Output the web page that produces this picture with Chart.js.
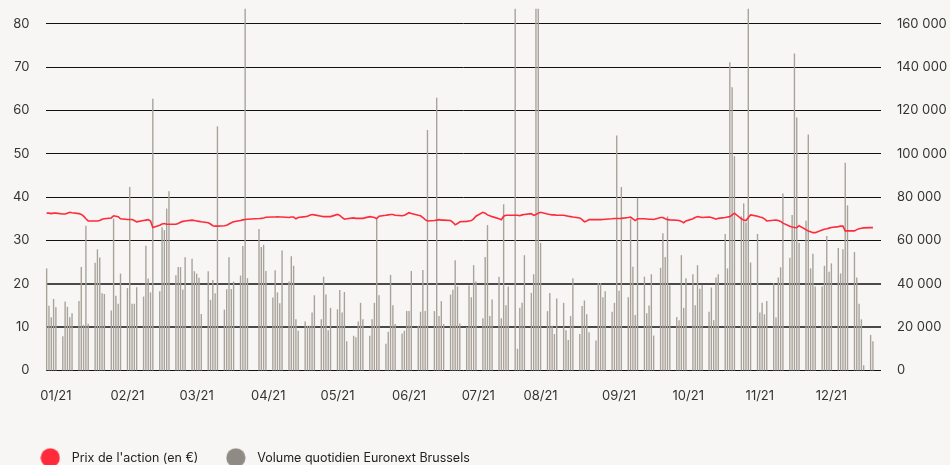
<!DOCTYPE html>
<html lang="fr">
<head>
<meta charset="utf-8">
<title>Cours de l'action et volume quotidien 2021</title>
<script src="https://cdn.jsdelivr.net/npm/chart.js@4.4.1/dist/chart.umd.min.js"></script>
<style>
  html, body { margin: 0; padding: 0; background: #f7f6f4; overflow: hidden; }
  #wrap { position: relative; width: 950px; height: 474px; }
</style>
</head>
<body>
<div id="wrap"><canvas id="chartPrice"></canvas></div>
<script>
// Séances du 4 janvier au 28 décembre 2021, une ligne par semaine
const prices = [
  36.3, 36.3, 36.2, 36.3, 36.3,
  36.1, 36.1, 36.3, 36.5, 36.4,
  36.2, 36.0, 35.6, 35.0, 34.5,
  34.5, 34.5, 34.6, 34.9, 35.0,
  35.2, 35.7, 35.6, 35.5, 35.0,
  34.85, 34.85, 34.85, 34.6, 34.3,
  34.6, 34.7, 34.8, 34.5, 33.0,
  33.5, 33.8, 33.9, 33.75, 33.75,
  33.75, 33.9, 34.2, 34.4, 34.5,
  34.7, 34.6, 34.5, 34.4, 34.3,
  34.1, 33.8, 33.4, 33.3, 33.3,
  33.4, 33.5, 33.8, 34.1, 34.3,
  34.6, 34.75, 34.85, 34.9,
  35.05, 35.1, 35.2, 35.35,
  35.4, 35.4, 35.45, 35.4, 35.4,
  35.3, 35.4, 35.4, 35.0, 35.3,
  35.5, 35.6, 35.8, 36.0, 35.9,
  35.6, 35.5, 35.5, 35.5, 35.5,
  36.0, 35.8, 35.3, 34.9, 35.0,
  35.2, 35.1, 35.1, 35.1, 35.1,
  35.5, 35.4, 35.3, 35.05, 35.6,
  35.8, 35.9, 36.0, 36.0, 35.8,
  35.7, 35.8, 36.1, 36.4, 36.2,
  35.8, 35.7, 35.3, 34.8, 34.5,
  34.6, 34.7, 34.8, 34.7, 34.7,
  34.6, 34.2, 33.6, 33.9, 34.3,
  34.4, 34.5, 34.6, 35.0, 35.6,
  36.5, 36.3, 35.9, 35.7, 35.5,
  35.0, 34.8, 35.6, 35.8, 35.8,
  35.8, 35.8, 35.7, 35.9, 36.0,
  36.2, 35.8, 36.0, 36.3, 36.5,
  36.1, 36.0, 35.9, 35.9, 35.8,
  35.8, 35.7, 35.6, 35.5, 35.4,
  35.2, 34.8, 34.3, 34.5, 34.8,
  34.8, 34.8, 34.8, 34.85, 34.9,
  35.0, 35.05, 35.05, 35.05, 35.1,
  35.3, 35.4, 35.0, 34.6, 35.0,
  35.0, 34.95, 34.9, 34.9, 34.85,
  35.3, 35.3, 35.0, 34.8, 34.75,
  34.65, 34.6, 34.4, 34.1, 34.5,
  35.0, 35.3, 35.5, 35.4, 35.3,
  35.4, 35.3, 35.1, 34.9, 35.1,
  35.3, 35.4, 35.5, 35.9, 36.3,
  35.0, 34.7, 34.6, 35.3, 35.9,
  35.6, 35.4, 35.3, 35.0, 34.5,
  34.65, 34.7, 34.6, 34.4, 34.0,
  33.3, 33.1, 33.0, 32.95, 33.4,
  32.5, 32.2, 32.0, 31.8, 31.8,
  32.4, 32.6, 32.7, 32.85, 33.0,
  33.2, 33.3, 33.3, 32.2, 32.2,
  32.2, 32.5, 32.7, 32.8, 32.9,
  32.95, 32.95
];

const volumes = [
  47100, 29900, 24500, 33000, 29200,
  15800, 31800, 29400, 24500, 26400,
  32100, 47700, 21000, 66800, 21500,
  49700, 55900, 52100, 35600, 35300,
  27700, 70100, 34500, 30800, 44700,
  38000, 84700, 30800, 30800, 38400,
  34100, 57600, 42400, 36000, 125400,
  36500, 66100, 64800, 74700, 82700,
  43900, 47700, 47700, 37400, 52300,
  51600, 45800, 44700, 42800, 26000,
  45800, 32600, 41700, 35600, 112700,
  28100, 37500, 52300, 37600, 41000,
  43800, 57400, 167000, 42600,
  65300, 57000, 58000, 45900,
  33700, 46300, 36000, 31000, 55400,
  41000, 52700, 48300, 23600, 18300,
  22600, 20600, 20600, 26700, 34700,
  23600, 43300, 35000, 18600, 28900,
  28200, 37100, 26700, 36200, 13500,
  16000, 15300, 22600, 31200, 23600,
  16000, 23600, 31200, 70100, 34700,
  12300, 17900, 44100, 30100, 21400,
  17100, 18300, 27400, 27400, 45900,
  20600, 27100, 46400, 27400, 111000,
  27400, 125900, 25100, 32000, 21400,
  35000, 37300, 50900, 38800, 21700,
  20100, 39200, 33800, 48600, 41100,
  24100, 52400, 67100, 25100, 32700,
  43300, 24100, 76700, 30100, 38800,
  167000, 10000, 28900, 31200, 53200,
  35800, 44400, 167000, 167000, 58900,
  27400, 35800, 20600, 16800, 33200,
  31200, 18600, 14100, 25100, 42600,
  16800, 29700, 32300, 25900, 17600,
  13800, 40300, 40300, 33800, 36500,
  27100, 31200, 108500, 36800, 84700,
  33800, 70100, 47900, 25600, 79700,
  43300, 26400, 30000, 44400, 16100,
  47400, 63300, 52400, 71100, 39200,
  24700, 23200, 53200, 28900, 42600,
  44400, 30100, 48600, 37700, 39500,
  27100, 38300, 23200, 42900, 44400,
  63000, 47100, 142300, 130700, 98900,
  71100, 77100, 68300, 167000, 49800,
  63000, 26700, 31200, 25900, 32000,
  40300, 24400, 42900, 47600, 81700,
  52000, 71700, 146300, 116800, 58900,
  69100, 108900, 47100, 53900, 38800,
  38800, 48300, 62000, 45600, 49400,
  56500, 44800, 55900, 95900, 76200,
  54700, 42900, 30800, 23600, 2400,
  16400, 13500
];

const holidays = ['2021-04-02', '2021-04-05'];
const firstDay = '2021-01-04';
const lastDay = '2021-12-31';
const lastSession = '2021-12-28';

const tickDates = ['2021-01-08', '2021-02-08', '2021-03-10', '2021-04-10', '2021-05-10', '2021-06-10',
                   '2021-07-10', '2021-08-06', '2021-09-09', '2021-10-09', '2021-11-09', '2021-12-10'];
const tickLabels = ['01/21', '02/21', '03/21', '04/21', '05/21', '06/21',
                    '07/21', '08/21', '09/21', '10/21', '11/21', '12/21'];

const seriesNames = ["Prix de l'action (en €)", 'Volume quotidien Euronext Brussels'];
const seriesColors = ['#ff2a3a', '#8f8a84'];

// axe des x : un emplacement par jour calendaire, vide le week-end et les jours fériés
const iso = d => d.toISOString().slice(0, 10);
const days = [];
for (let d = new Date(firstDay + 'T00:00:00Z'); iso(d) <= lastDay; d.setUTCDate(d.getUTCDate() + 1)) {
  days.push(iso(d));
}

const priceByDay = [];
const volumeByDay = [];
let k = 0;
days.forEach(day => {
  const wd = new Date(day + 'T00:00:00Z').getUTCDay();
  const open = wd > 0 && wd < 6 && !holidays.includes(day) && day <= lastSession;
  priceByDay.push(open ? prices[k] : null);
  volumeByDay.push(open ? volumes[k] : null);
  if (open) k++;
});

function dot(color) {
  const c = document.createElement('canvas');
  c.width = c.height = 20;
  const g = c.getContext('2d');
  g.fillStyle = color;
  g.beginPath();
  g.arc(10, 10, 9.6, 0, Math.PI * 2);
  g.fill();
  return c;
}
const legendDots = seriesColors.map(dot);

const font = { family: 'Inter', size: 13 };
const legendFont = { family: 'Inter', size: 12.5 };
const thousands = v => String(v).replace(/\B(?=(\d{3})+(?!\d))/g, ' ');

// les lignes 10 et 20 passent dans la masse des barres : plus grises et plus épaisses
const lowLine = ctx => ctx.tick && (ctx.tick.value === 10 || ctx.tick.value === 20);

const ctxPrice = document.getElementById('chartPrice');
const chartPrice = new Chart(ctxPrice, {
  type: 'bar',
  data: {
    labels: days,
    datasets: [{
      type: 'line',
      label: seriesNames[0],
      data: priceByDay,
      yAxisID: 'y',
      borderColor: seriesColors[0],
      backgroundColor: seriesColors[0],
      borderWidth: 1.6,
      pointRadius: 0,
      tension: 0,
      spanGaps: true
    }, {
      label: seriesNames[1],
      data: volumeByDay,
      yAxisID: 'y1',
      backgroundColor: '#a8a29b',
      barPercentage: 0.6,
      categoryPercentage: 1,
      clip: false
    }]
  },
  options: {
    responsive: true,
    maintainAspectRatio: false,
    animation: false,
    devicePixelRatio: 1,
    layout: { padding: { left: 12.8, right: 0, top: 14, bottom: 0 } },
    plugins: {
      tooltip: { enabled: false },
      legend: {
        position: 'bottom',
        align: 'start',
        labels: {
          usePointStyle: true,
          pointStyleWidth: 30.3,
          padding: 22.35,
          color: '#222',
          font: legendFont,
          generateLabels: chart => Chart.defaults.plugins.legend.labels.generateLabels(chart)
            .map((item, i) => Object.assign(item, { pointStyle: legendDots[i] }))
        }
      }
    },
    scales: {
      x: {
        grid: { display: false, drawTicks: false },
        border: { display: false },
        ticks: {
          autoSkip: false,
          maxRotation: 0,
          padding: 18,
          color: '#333',
          font: font,
          callback: value => tickLabels[tickDates.indexOf(days[value])]
        },
        afterBuildTicks: axis => {
          axis.ticks = axis.ticks.filter(t => tickDates.includes(days[t.value]));
        },
        afterFit: axis => { axis.height = 58.7; }
      },
      y: {
        position: 'left',
        min: 0,
        max: 80,
        z: 1,
        ticks: { stepSize: 10, padding: 16, color: '#333', font: font },
        grid: {
          color: ctx => lowLine(ctx) ? '#4a4a4a' : '#111',
          lineWidth: ctx => lowLine(ctx) ? 2 : 1,
          drawTicks: false
        },
        border: { display: false },
        afterFit: axis => { axis.width = 32.7; }
      },
      y1: {
        position: 'right',
        min: 0,
        max: 160000,
        ticks: { stepSize: 20000, padding: 16, color: '#333', font: font, callback: thousands },
        grid: { display: false, drawTicks: false },
        border: { display: false },
        afterFit: axis => { axis.width = 69; }
      }
    }
  }
});
</script>
</body>
</html>
